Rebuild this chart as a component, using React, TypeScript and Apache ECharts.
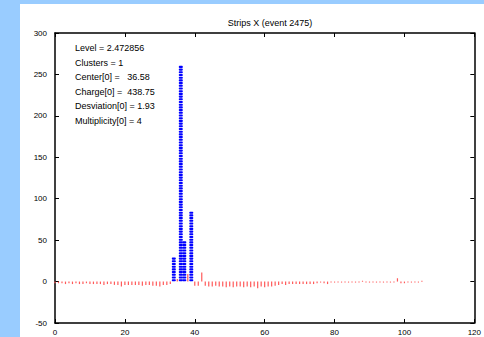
import React, { useEffect, useRef } from "react";
import * as echarts from "echarts";

const titleText = "Strips X (event 2475)";
const infoLines = [
  "Level = 2.472856",
  "Clusters = 1",
  "Center[0] =   36.58",
  "Charge[0] =  438.75",
  "Desviation[0] = 1.93",
  "Multiplicity[0] = 4",
];

// red: all-strip signal, indexed by strip number 0..105 (null = covered by cluster)
const redValues: (number | null)[] = [
  -2, -2, -2, -3, -2, -3, -2, -3, -3, -2,
  -3, -3, -3, -3, -4, -3, -3, -4, -4, -6,
  -4, -4, -4, -4, -4, -5, -4, -4, -5, -5,
  -6, -4, -4, -3, null, 3, null, null, 9, null,
  -5, -5, 11, -5, -6, -6, -5, -6, -6, -7,
  -6, -7, -6, -6, -7, -6, -7, -6, -8, -6,
  -7, -6, -6, -5, -4, -3, -4, -3, -3, -3,
  -3, -3, -3, -3, -3, -2, -1, -2, -3, -1,
  -1, -1, -1, -1, -1, -1, -1, -1, 1, -1,
  -1, -1, -1, -1, -1, -1, -1, -1, 4, -2,
  -2, -1, -1, -1, -1, 1,
];

// blue: cluster strips
const blueStrips = [34, 36, 37, 39];
const blueCharges = [30, 260, 48, 85];

const xTicks = { min: 0, max: 120, interval: 20 };
const yTicks = { min: -50, max: 300, interval: 50 };

export default function App() {
  const ref = useRef<HTMLDivElement>(null);
  useEffect(() => {
    if (!ref.current) return;
    const chart = echarts.init(ref.current, undefined, { renderer: "svg" });
    const font = "Liberation Sans, Arial, Helvetica, sans-serif";
    const redData: [number, number][] = [];
    redValues.forEach((v, i) => {
      if (v !== null) redData.push([i, v]);
    });
    const blueData = blueStrips.map((s, i) => [s, blueCharges[i]]);
    const axisLine = { show: true, onZero: false, lineStyle: { color: "#000", width: 1.5 } };
    const axisTick = { show: true, inside: true, length: 4, lineStyle: { color: "#000", width: 1 } };
    chart.setOption({
      animation: false,
      backgroundColor: "#99ccff",
      title: {
        text: titleText,
        left: 265,
        textAlign: "center",
        top: 13,
        textStyle: { fontSize: 9, fontWeight: "normal", color: "#000", fontFamily: font },
      },
      graphic: [
        {
          type: "rect",
          z: -10,
          silent: true,
          shape: { x: 20, y: 4, width: 470, height: 340 },
          style: { fill: "#ffffff" },
        },
        ...infoLines.map((t, i) => ({
          type: "text",
          x: 75,
          y: 48 + i * 14.5,
          z: 10,
          style: {
            text: t,
            fontSize: 9,
            fontFamily: font,
            fill: "#000",
            textVerticalAlign: "middle",
          },
        })),
      ],
      grid: { left: 55, right: 9, top: 33, bottom: 14, containLabel: false },
      xAxis: [
        {
          type: "value",
          position: "bottom",
          ...xTicks,
          axisLine,
          axisTick,
          splitLine: { show: false },
          axisLabel: { fontSize: 8, color: "#000", margin: 5, fontFamily: font },
        },
        {
          type: "value",
          position: "top",
          ...xTicks,
          axisLine,
          axisTick,
          splitLine: { show: false },
          axisLabel: { show: false },
        },
      ],
      yAxis: [
        {
          type: "value",
          position: "left",
          ...yTicks,
          axisLine,
          axisTick,
          splitLine: { show: false },
          axisLabel: { fontSize: 8, color: "#000", margin: 8, fontFamily: font },
        },
        {
          type: "value",
          position: "right",
          ...yTicks,
          axisLine,
          axisTick,
          splitLine: { show: false },
          axisLabel: { show: false },
        },
      ],
      series: [
        {
          type: "custom",
          name: "strips",
          xAxisIndex: 0,
          yAxisIndex: 0,
          data: redData,
          encode: { x: 0, y: 1 },
          renderItem: (params: any, api: any) => {
            const x = api.value(0);
            const v = api.value(1);
            const p0 = api.coord([x, 0]);
            const p1 = api.coord([x, v]);
            return {
              type: "rect",
              shape: {
                x: p0[0] - 0.6,
                y: Math.min(p0[1], p1[1]),
                width: 1.2,
                height: Math.max(Math.abs(p1[1] - p0[1]), 1),
              },
              style: { fill: "#ff5a5a" },
            };
          },
        },
        {
          type: "custom",
          name: "cluster",
          xAxisIndex: 0,
          yAxisIndex: 0,
          data: blueData,
          encode: { x: 0, y: 1 },
          renderItem: (params: any, api: any) => {
            const x = api.value(0);
            const v = api.value(1);
            const p0 = api.coord([x, 0]);
            const p1 = api.coord([x, v]);
            const h = Math.abs(p0[1] - p1[1]);
            const step = 2.7;
            const n = Math.max(1, Math.round(h / step));
            const children: any[] = [];
            for (let k = 0; k < n; k++) {
              children.push({
                type: "rect",
                shape: { x: p0[0] - 2, y: p0[1] - (k + 1) * step + 0.3, width: 4, height: step - 0.6, r: 0.8 },
                style: { fill: "#0000ff" },
              });
            }
            return { type: "group", children };
          },
        },
      ],
    });
    return () => chart.dispose();
  }, []);
  return (
    <div
      ref={ref}
      style={{ position: "absolute", left: 0, top: 0, width: 484, height: 337 }}
    />
  );
}
